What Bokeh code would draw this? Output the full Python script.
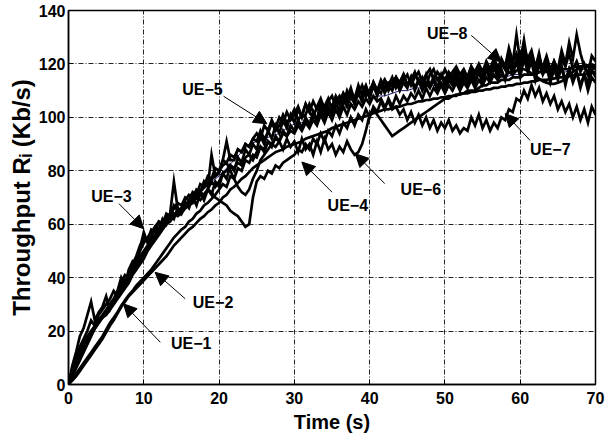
from bokeh.plotting import figure
from bokeh.models import Range1d, FixedTicker, Arrow, NormalHead, Label, Title
from bokeh.embed import file_html
from bokeh.resources import INLINE

# ---------------- data ----------------
# samples every 0.5 s, 0 .. 70 s
time_s = [i / 2 for i in range(141)]

ue1 = [0, 1.5, 3, 5, 7, 9, 11, 13, 15, 17,
       19.5, 22, 24, 26.5, 29, 31, 33, 34.5, 36, 37.5,
       39, 40.5, 42, 43.5, 45, 46.5, 48, 50, 52, 53.5,
       55, 56.5, 58, 59, 60.5, 62, 63, 64.5, 65.5, 67,
       68, 70, 71, 73, 74, 75.5, 77, 78, 79.5, 81,
       82, 83, 84, 85, 86, 87, 87.5, 88, 89, 89.5,
       90, 90.5, 91, 92, 92.5, 93, 93.5, 94, 94.5, 95,
       96, 96.5, 97, 97.5, 98, 98.5, 99, 99.5, 100, 100.5,
       101, 101.5, 102, 102.5, 103, 103, 103.5, 104, 104, 104.5,
       105, 105, 105.5, 106, 106, 106.5, 106.5, 107, 107, 107.5,
       107.5, 108, 108, 108.5, 108.5, 109, 109, 109.5, 109.5, 110,
       110, 110.5, 110.5, 111, 111, 111.5, 111.5, 112, 112, 112.5,
       112.5, 113, 113, 113.5, 113.5, 114, 114, 114, 114.5, 114.5,
       115, 115, 115, 115.5, 115.5, 116, 116, 116, 116.5, 116.5,
       117]

ue2 = [0, 2, 4, 6, 8, 10, 12, 14, 16, 18,
       20.5, 23, 25, 27, 29.5, 31.5, 33.5, 35, 37, 38.5,
       40, 41.5, 43, 45, 47, 49, 51, 53, 55, 56.5,
       58, 59, 61, 62, 64, 65, 67, 68, 69.5, 71,
       73, 75, 74, 78, 77, 81, 80, 84, 83, 86,
       85, 89, 87, 91, 89, 93, 91, 95, 93, 97,
       95, 99, 96, 100, 97, 102, 98, 103, 100, 104,
       101, 106, 102, 107, 104, 108, 105, 109, 106, 111,
       107, 112, 108, 113, 109, 112, 110, 114, 110, 113,
       111, 115, 110, 114, 111, 116, 112, 115, 111, 116,
       112, 116, 113, 117, 112, 116, 113, 118, 114, 117,
       113, 118, 114, 119, 115, 118, 114, 120, 116, 121,
       115, 122, 117, 121, 114, 120, 116, 119, 113, 118,
       114, 119, 112, 118, 115, 117, 111, 116, 113, 118,
       115]

ue3 = [0, 7, 12, 18, 21, 26, 31, 24, 27, 29,
       33, 28, 31, 35, 40, 37, 43, 46, 44, 51,
       57, 53, 55, 59, 58, 62, 60, 64, 62, 66,
       64, 68, 66, 70, 67, 72, 69, 73, 71, 76,
       74, 79, 77, 82, 80, 85, 83, 88, 86, 90,
       88, 93, 90, 95, 92, 97, 94, 99, 96, 101,
       98, 103, 100, 101, 105, 102, 99, 106, 104, 107,
       103, 106, 108, 105, 110, 107, 106, 111, 109, 112,
       108, 113, 110, 109, 114, 112, 115, 111, 113, 116,
       112, 114, 117, 113, 115, 112, 116, 118, 114, 116,
       114, 117, 115, 118, 114, 117, 115, 119, 116, 118,
       115, 119, 117, 121, 116, 120, 118, 123, 117, 122,
       119, 124, 118, 122, 117, 121, 119, 123, 118, 121,
       117, 122, 119, 124, 118, 121, 117, 120, 116, 119,
       118]

ue4 = [0, 3, 6, 9, 12, 15, 18, 21, 23, 25,
       27, 29, 31, 33, 35, 37, 40, 42, 44, 46,
       49, 51, 53, 55, 57, 59, 62, 64, 76, 66,
       65, 67, 69, 68, 70, 72, 71, 73, 72, 70,
       69, 68, 67, 65, 64, 63, 61, 59, 60, 70,
       76, 78, 77, 80, 79, 82, 81, 83, 84, 85,
       86, 88, 87, 90, 88, 92, 90, 94, 91, 95,
       93, 97, 94, 98, 96, 100, 97, 101, 99, 103,
       100, 104, 102, 106, 103, 107, 104, 108, 105, 108,
       106, 109, 107, 110, 107, 111, 108, 111, 109, 112,
       109, 112, 110, 113, 110, 113, 111, 114, 111, 114,
       112, 115, 113, 116, 114, 116, 115, 117, 116, 117.5,
       118, 118, 117.5, 116.5, 115.5, 114.5, 113.5, 113, 112.5, 112.5,
       113, 113.5, 114.5, 115.5, 117, 118, 119, 119.5, 119.5, 119.5,
       119.5]

ue5 = [0, 5, 9, 13, 16, 18, 20, 22, 24, 26,
       28, 30, 32, 35, 37, 39, 41, 44, 47, 50,
       53, 55, 57, 59, 61, 60, 63, 62, 67, 65,
       66, 69, 71, 70, 73, 72, 76, 74, 86, 78,
       79, 84, 91, 84, 84, 88, 87, 90, 89, 92,
       94, 92, 97, 95, 99, 96, 100, 98, 102, 99,
       101, 104, 100, 105, 102, 106, 103, 105, 102, 106,
       104, 108, 105, 109, 106, 110, 107, 112, 108, 111,
       109, 113, 110, 114, 111, 113, 112, 115, 113, 116,
       112, 115, 111, 114, 110, 113, 111, 114, 110, 113,
       111, 114, 112, 115, 111, 114, 112, 116, 113, 117,
       114, 118, 115, 120, 117, 122, 119, 126, 121, 124,
       120, 126, 122, 125, 119, 123, 117, 121, 116, 120,
       115, 119, 114, 118, 113, 117, 112, 116, 110, 115,
       113]

ue6 = [0, 3.5, 7, 10, 13, 16, 19, 21, 23.5, 25,
       26, 28, 30, 32, 34, 36, 38, 41, 43, 45,
       47, 50, 52, 54, 56, 58, 60, 61, 63, 64,
       65, 66, 68, 69, 71, 72, 74, 75, 77, 78,
       80, 82, 83, 80, 77, 74, 72, 71, 73, 77,
       80, 84, 86, 88, 90, 89, 91, 88, 92, 89,
       91, 87, 92, 88, 90, 86, 91, 87, 92, 88,
       90, 86, 89, 87, 91, 88, 86, 87, 90, 95,
       101, 103, 101, 99, 97, 95, 93, 94, 95, 96,
       97, 98, 99, 100, 101, 102, 103, 104, 105, 106,
       107, 107, 108, 108, 109, 109, 110, 110, 110, 111,
       112, 112, 113, 113, 113, 114, 114, 114, 115, 115,
       115, 116, 116, 116, 116, 117, 117, 117, 117, 118,
       118, 118, 118, 118, 119, 119, 119, 119, 119, 119,
       119]

ue7 = [0, 4, 8, 11, 14, 17, 19, 21, 23, 25,
       27, 30, 32, 34, 36, 38, 40, 43, 45, 48,
       50, 52, 54, 56, 58, 60, 61, 63, 64, 63,
       64, 66, 67, 68, 70, 69, 71, 73, 76, 74,
       76, 79, 80, 82, 81, 83, 82, 85, 86, 84,
       87, 89, 88, 91, 90, 92, 91, 94, 93, 95,
       94, 97, 95, 98, 96, 99, 97, 101, 98, 102,
       99, 103, 100, 104, 101, 105, 103, 106, 104, 107,
       105, 108, 106, 107, 104, 106, 103, 104, 101, 103,
       99, 102, 98, 101, 97, 100, 96, 99, 95, 98,
       96, 99, 95, 97, 94, 96, 95, 100, 97, 101,
       96, 99, 95, 98, 96, 100, 99, 103, 102, 107,
       106, 110, 107, 112, 108, 111, 106, 109, 105, 108,
       103, 106, 102, 105, 100, 104, 99, 103, 98, 104,
       101]

ue8 = [0, 6, 10, 14, 17, 20, 24, 22, 26, 28,
       30, 32, 35, 33, 38, 41, 40, 45, 48, 52,
       55, 54, 58, 57, 61, 60, 64, 63, 66, 68,
       67, 70, 69, 72, 71, 75, 74, 78, 77, 81,
       80, 84, 83, 86, 85, 88, 87, 90, 89, 92,
       91, 95, 92, 94, 98, 95, 97, 101, 98, 100,
       103, 99, 101, 105, 102, 100, 104, 107, 103, 106,
       108, 104, 106, 109, 107, 111, 106, 109, 112, 108,
       110, 113, 109, 112, 114, 110, 113, 115, 111, 114,
       116, 112, 115, 117, 113, 116, 118, 114, 117, 115,
       118, 115, 117, 119, 116, 118, 115, 119, 117, 120,
       117, 121, 118, 122, 119, 121, 118, 124, 120, 131,
       121, 129, 120, 123, 118, 124, 117, 122, 116, 121,
       118, 125, 120, 128, 122, 131, 124, 119, 116, 123,
       121]

# thin mean curve (1 s samples)
mean_t = list(range(71))
mean_line = [0, 6, 12, 18, 23, 27, 31, 35, 39, 44, 49,
             53, 57, 60, 64, 66, 69, 71, 73, 76, 78,
             81, 84, 87, 90, 91, 92, 93, 94, 96, 97.5,
             98, 99, 100, 101, 102, 103, 104, 105, 106, 107,
             108, 108, 109, 110, 110, 111, 111, 112, 112, 113,
             113, 113, 114, 114, 114, 115, 115, 115, 116, 116,
             116, 116, 117, 117, 117, 117, 118, 118, 118, 118]

series = [ue1, ue2, ue3, ue4, ue5, ue6, ue7, ue8]

ue_names = ["UE\u22121", "UE\u22122", "UE\u22123", "UE\u22124",
            "UE\u22125", "UE\u22126", "UE\u22127", "UE\u22128"]
label_t = [16.3, 19.2, 5.7, 37.1, 17.8, 46.8, 64.0, 50.3]
label_v = [15.4, 30.8, 70.4, 67.0, 110.5, 73.0, 88.0, 131.3]
tail_t = [12.2, 15.5, 6.7, 35.0, 20.6, 42.0, 61.3, 53.5]
tail_v = [15.8, 32.1, 67.7, 72.0, 107.9, 75.2, 91.4, 130.7]
tip_t = [7.3, 11.5, 10.0, 31.0, 26.35, 38.1, 58.0, 57.5]
tip_v = [30.2, 42.0, 58.3, 83.3, 97.6, 86.4, 101.4, 120.7]

x_ticks = [0, 10, 20, 30, 40, 50, 60, 70]
y_ticks = [0, 20, 40, 60, 80, 100, 120, 140]
x_title = "Time (s)"
y_title = "Throughput R\u1d62 (Kb/s)"

# ---------------- figure ----------------
FONT = "Liberation Sans"
p = figure(width=608, height=439, output_backend="svg", toolbar_location=None,
           x_range=Range1d(0, 70), y_range=Range1d(0, 140),
           min_border_left=68, min_border_right=13, min_border_top=10,
           min_border_bottom=55)

p.outline_line_color = "black"
p.outline_line_width = 1.5
p.background_fill_color = "white"
p.border_fill_color = "white"

p.xaxis.ticker = FixedTicker(ticks=x_ticks)
p.yaxis.ticker = FixedTicker(ticks=y_ticks)
for ax in (p.xaxis, p.yaxis):
    ax.axis_line_color = "black"
    ax.axis_line_width = 1.5
    ax.major_tick_in = 5
    ax.major_tick_out = 0
    ax.major_tick_line_color = "black"
    ax.minor_tick_line_color = None
    ax.major_label_text_font = FONT
    ax.major_label_text_font_style = "bold"
    ax.major_label_text_font_size = "16px"
    ax.major_label_text_color = "black"
    ax.axis_label_text_font = FONT
    ax.axis_label_text_font_style = "bold"
    ax.axis_label_text_color = "black"

p.yaxis.major_label_standoff = 3
p.xaxis.major_label_standoff = 7
p.xaxis.axis_label = x_title
p.xaxis.axis_label_text_font_size = "20px"
p.xaxis.axis_label_standoff = 4

# y title: a left-side title, shifted a little above the frame centre
p.add_layout(Title(text=y_title, align="center", offset=31, standoff=2,
                   text_font=FONT, text_font_style="bold",
                   text_font_size="24px", text_color="black"), "left")

for g in (p.xgrid, p.ygrid):
    g.grid_line_color = "black"
    g.grid_line_dash = "5 2 1 2"
    g.grid_line_width = 1
    g.grid_line_alpha = 0.85

p.line(mean_t, mean_line, line_color="#1a1a6e", line_width=1)
for s in series:
    p.line(time_s, s, line_color="black", line_width=2.7, line_join="miter")

for name, lt, lv, at, av, bt, bv in zip(ue_names, label_t, label_v,
                                         tail_t, tail_v, tip_t, tip_v):
    p.add_layout(Arrow(end=NormalHead(size=13, fill_color="black",
                                      line_color="black", line_width=1),
                       x_start=at, y_start=av, x_end=bt, y_end=bv,
                       line_color="black", line_width=1))
    p.add_layout(Label(x=lt, y=lv, text=name, text_font=FONT,
                       text_font_style="bold", text_font_size="16px",
                       text_align="center", text_baseline="middle",
                       text_color="black"))

open("out.html", "w").write(file_html(p, INLINE))
